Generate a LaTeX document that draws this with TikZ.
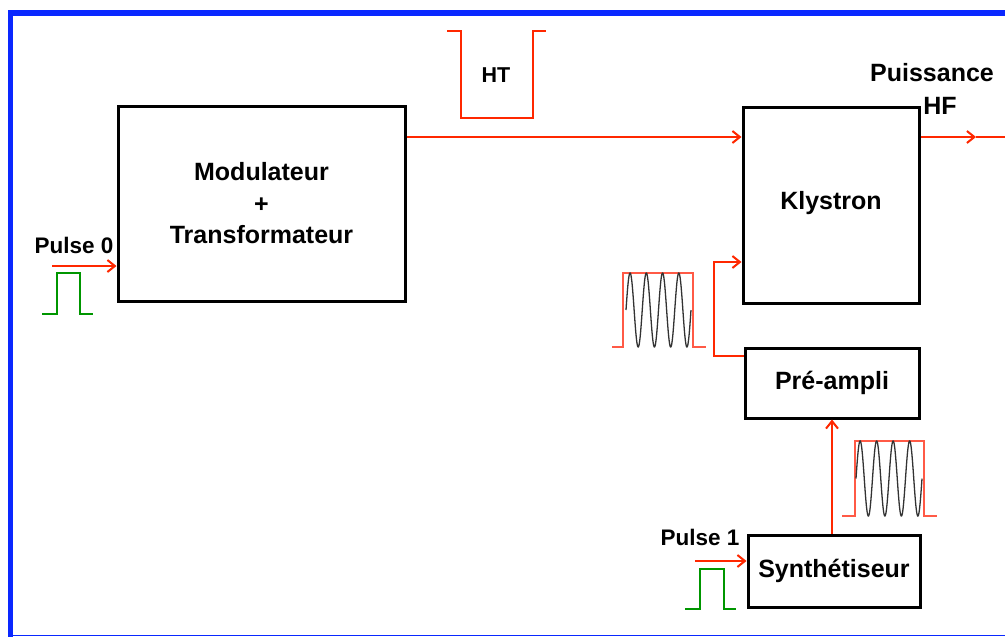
\documentclass[tikz,border=0pt]{standalone}
\usepackage{fontspec}
\setmainfont{Liberation Sans}
\usetikzlibrary{arrows.meta}
\definecolor{rd}{RGB}{255,40,0}
\definecolor{env}{RGB}{255,90,70}
\definecolor{bl}{RGB}{10,40,255}
\definecolor{gr}{RGB}{0,150,0}
\begin{document}
\begin{tikzpicture}[x=1pt,y=-1pt,
  blockbox/.style={draw=black,line width=3pt,fill=white,inner sep=0pt,
    font=\bfseries\fontsize{25}{31.5}\selectfont,align=center},
  lbl/.style={inner sep=0pt,font=\bfseries\fontsize{22.5}{28}\selectfont},
  conn/.style={draw=rd,line width=2pt,-{Straight Barb[length=7.5pt,width=12pt,line width=2pt]}},
  redline/.style={draw=rd,line width=2pt},
  pulsegreen/.style={draw=gr,line width=2pt},
  envelope/.style={draw=env,line width=1.3pt},
  sinewave/.style={draw=black!80,line width=1.3pt}]
\useasboundingbox (0,0) rectangle (1005,637);
% frame
\fill[bl] (8,10) rectangle (1005,16);
\fill[bl] (8,10) rectangle (13,637);
\draw[bl,line width=1.5pt] (13,635.5) -- (1005,635.5);

% blocks
\node[blockbox,minimum width=287pt,minimum height=195pt] (mod) at (261.5,203.5)
  {Modulateur\\+\\Transformateur};
\node[blockbox,minimum width=176pt,minimum height=196pt] (kly) at (831,205) {\raisebox{10pt}{Klystron}};
\node[blockbox,minimum width=174pt,minimum height=70pt] (pre) at (832,383) {\raisebox{3pt}{Pré-ampli}};
\node[blockbox,minimum width=172pt,minimum height=72pt] (syn) at (834,571) {\raisebox{4pt}{Synthétiseur}};

% labels
\node[lbl] (p0) at (74,245) {Pulse 0};
\node[lbl] (p1) at (700,537) {Pulse 1};
\node[lbl,font=\bfseries\fontsize{21.5}{26}\selectfont] (ht) at (496,75) {HT};
\node[lbl,font=\bfseries\fontsize{25}{28}\selectfont] (pu) at (932,73) {Puissance};
\node[lbl,font=\bfseries\fontsize{25}{28}\selectfont] (hf) at (940,106) {HF};

% HT bucket
\draw[redline,line width=2.8pt] (447,31) -- (461,31) -- (461,118) -- (533,118) -- (533,31) -- (546,31);

% connectors
\draw[conn] (mod.east |- 0,137) -- (kly.west |- 0,137);
\coordinate (outtip) at (976,137);
\coordinate (outend) at (1005,137);
\draw[conn] (kly.east |- 0,137) -- (outtip);
\draw[redline] (outtip) -- (outend);
\coordinate (p0start) at (52,266);
\draw[conn] (p0start) -- (mod.west |- p0start);
\coordinate (feed) at (714,356);
\draw[conn] (pre.west |- feed) -- (feed) -- (714,262) -- (kly.west |- 0,262);
\draw[conn] (syn.north -| 832,0) -- (pre.south -| 832,0);
\coordinate (p1start) at (695,561);
\draw[conn] (p1start) -- (syn.west |- p1start);

% green pulses
\draw[pulsegreen] (42,314) -- (57,314) -- (57,273) -- (80,273) -- (80,314) -- (93,314);
\draw[pulsegreen] (685,609) -- (700,609) -- (700,569) -- (724,569) -- (724,609) -- (736,609);

% RF bursts
\draw[envelope] (612,347) -- (623,347) -- (623,273) -- (693,273) -- (693,347) -- (706,347);
\draw[sinewave] plot[domain=0:65,samples=240] ({626+\x},{310-37*sin(22.1538*\x)});
\draw[envelope] (842,516) -- (855,516) -- (855,441) -- (924,441) -- (924,516) -- (937,516);
\draw[sinewave] plot[domain=0:66,samples=240] ({856+\x},{478.5-37.5*sin(21.8182*\x)});
\end{tikzpicture}
\end{document}
